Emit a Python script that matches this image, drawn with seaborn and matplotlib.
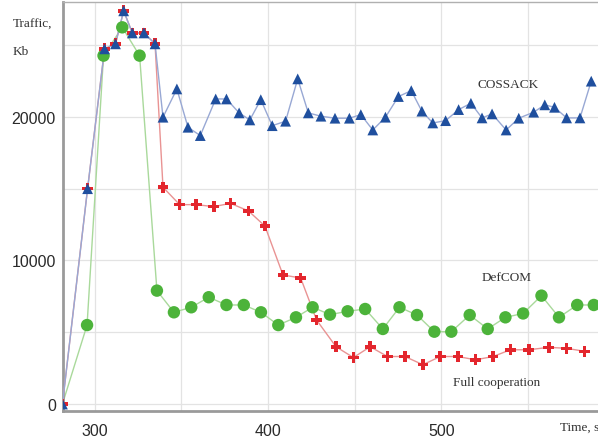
import numpy as np
import pandas as pd
import seaborn as sns
import matplotlib.pyplot as plt

# valori (tempo in s, traffico in Kb)
cossack_t = [281.5, 296, 305.8, 312.1, 316.8, 321.8, 328.5, 334.9, 339.5, 347.5, 353.9, 361,
             369.9, 376.1, 383.4, 389.6, 395.9, 402.5, 410.2, 417.2, 423.3, 430.6, 438.7, 447,
             453.6, 460.5, 467.8, 475.3, 482.7, 488.8, 495.1, 502.5, 510, 517.1, 523.5, 529.3,
             537.4, 544.7, 553.3, 559.7, 565.3, 572.3, 580, 586.5]
cossack_kb = [0, 15000, 24740, 25090, 27390, 25850, 25850, 25090, 19980, 21950, 19280, 18700,
              21250, 21250, 20280, 19790, 21200, 19390, 19700, 22650, 20280, 20050, 19910, 19910,
              20160, 19090, 19980, 21420, 21830, 20400, 19580, 19740, 20510, 20950, 19930, 20210,
              19090, 19910, 20330, 20840, 20670, 19930, 19930, 22490]

full_t = [281.5, 296, 305.8, 312.1, 316.8, 321.8, 328.5, 334.9, 339.5, 349.1, 358.7, 368.8,
          378.4, 388.8, 398.3, 408.7, 418.9, 428.1, 439.3, 449.3, 459, 469, 479, 489.4,
          499.4, 509.6, 519.7, 529.9, 539.9, 550.5, 562, 572.3, 582.7]
full_kb = [0, 15000, 24740, 25090, 27390, 25850, 25850, 25090, 15100, 13890, 13890, 13750,
           13980, 13450, 12400, 8990, 8780, 5850, 3990, 3240, 3990, 3310, 3310, 2740,
           3310, 3310, 3080, 3310, 3780, 3780, 3950, 3880, 3670]

defcom_t = [281.5, 295.7, 305.2, 316, 326, 336, 345.8, 355.8, 365.9, 376.1, 386.1, 396,
            406, 416.2, 425.8, 435.8, 446, 456.1, 466.3, 475.9, 486, 496, 505.8, 516.4,
            526.8, 537, 547.2, 557.8, 567.9, 578.4, 588]
defcom_kb = [0, 5500, 24270, 26240, 24270, 7900, 6390, 6740, 7440, 6900, 6900, 6390,
             5500, 6040, 6740, 6230, 6460, 6620, 5230, 6740, 6200, 5040, 5040, 6200,
             5230, 6040, 6310, 7550, 6040, 6900, 6900]

x_ticks = [300, 400, 500]
y_ticks = [0, 10000, 20000]

sns.set_style("white")
plt.rcParams['font.family'] = ['Liberation Sans', 'DejaVu Sans']

fig = plt.figure(figsize=(5.98, 4.39), dpi=100)
ax = fig.add_axes([0.105, 0.062, 0.895, 0.931])

df_g = pd.DataFrame({"t": defcom_t, "kb": defcom_kb})
df_r = pd.DataFrame({"t": full_t, "kb": full_kb})
df_b = pd.DataFrame({"t": cossack_t, "kb": cossack_kb})

# linee sottili
sns.lineplot(data=df_g, x="t", y="kb", color="#a9d99b", lw=1, ax=ax, zorder=2)
sns.lineplot(data=df_r, x="t", y="kb", color="#e99393", lw=1, ax=ax, zorder=3)
sns.lineplot(data=df_b, x="t", y="kb", color="#98a8d4", lw=1, ax=ax, zorder=4)

# marcatori
sns.scatterplot(data=df_g.iloc[1:], x="t", y="kb", color="#4cb33a", marker="o", s=80,
                edgecolor="none", ax=ax, zorder=5)
sns.scatterplot(data=df_r, x="t", y="kb", color="#e3262d", marker="P", s=60,
                edgecolor="none", ax=ax, zorder=6)
sns.scatterplot(data=df_b, x="t", y="kb", color="#1f4f9e", marker="^", s=60,
                edgecolor="none", ax=ax, zorder=7)

ax.set_xlim(281.7, 590.4)
ax.set_ylim(-470, 28000)
ax.set_xticks(x_ticks)
ax.set_yticks(y_ticks)
ax.set_xticks([350, 450, 550], minor=True)
ax.set_yticks([5000, 15000, 25000], minor=True)
ax.grid(True, which="both", color="#e3e3e3", lw=0.9)
ax.set_axisbelow(True)
ax.tick_params(axis="both", which="both", length=3, color="#999999", labelsize=11.5,
               labelcolor="#2a2a2a")
ax.tick_params(axis="x", pad=6)
ax.tick_params(axis="y", pad=2)
ax.set_xlabel("")
ax.set_ylabel("")

for side in ["left", "bottom"]:
    ax.spines[side].set_color("#9a9a9a")
    ax.spines[side].set_linewidth(2)
ax.spines["top"].set_color("#b0b0b0")
ax.spines["top"].set_linewidth(1)
ax.spines["right"].set_visible(False)

serif = dict(family=["Liberation Serif", "DejaVu Serif"], fontsize=9.5, color="#333333")
ax.text(521, 22300, "COSSACK", va="center", **serif)
ax.text(523, 8830, "DefCOM", va="center", **serif)
ax.text(507, 1550, "Full cooperation", va="center", **serif)
fig.text(13 / 598, 1 - 25 / 439, "Traffic,", va="center", **serif)
fig.text(13 / 598, 1 - 52 / 439, "Kb", va="center", **serif)
fig.text(560 / 598, 1 - 428 / 439, "Time, s", va="center", **serif)

plt.savefig("out.png", dpi=100)
